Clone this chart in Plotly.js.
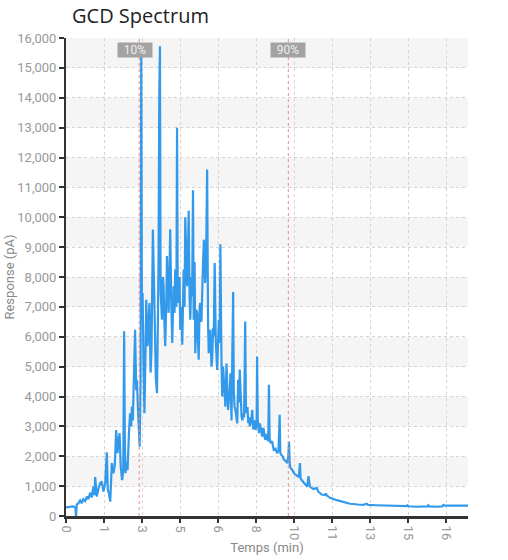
<!DOCTYPE html>
<html>
<head>
<meta charset="utf-8">
<script src="https://cdn.plot.ly/plotly-3.0.1.min.js"></script>
<style>html,body{margin:0;padding:0;background:#fff;}#chart{width:508px;height:560px;}</style>
</head>
<body>
<div id="chart"></div>
<script>
// Retention time (min) and detector response (pA)
const timeMin = [
 0.00,0.18,0.32,0.41,0.44,0.47,0.54,0.62,0.69,0.76,0.84,0.91,0.98,1.06,1.13,1.20,1.25,1.28,1.35,1.42,
 1.50,1.57,1.64,1.72,1.79,1.83,1.88,1.94,1.98,2.01,2.08,2.14,2.20,2.26,2.30,2.35,2.40,2.46,2.51,2.55,
 2.58,2.61,2.65,2.70,2.76,2.81,2.86,2.89,2.93,2.96,2.99,3.03,3.08,3.11,3.15,3.18,3.23,3.27,3.30,3.33,
 3.36,3.40,3.44,3.49,3.52,3.58,3.62,3.66,3.71,3.75,3.81,3.86,3.90,3.94,3.99,4.03,4.06,4.09,4.12,4.15,
 4.21,4.25,4.28,4.32,4.35,4.40,4.43,4.47,4.50,4.54,4.57,4.62,4.66,4.72,4.76,4.79,4.84,4.87,4.90,4.94,
 4.98,5.01,5.06,5.10,5.16,5.20,5.23,5.28,5.31,5.35,5.38,5.42,5.45,5.50,5.53,5.57,5.60,5.64,5.67,5.72,
 5.75,5.79,5.82,5.86,5.89,5.94,5.97,6.01,6.05,6.10,6.14,6.19,6.23,6.26,6.30,6.33,6.38,6.41,6.45,6.48,
 6.52,6.57,6.63,6.67,6.70,6.74,6.77,6.82,6.85,6.89,6.92,6.96,6.99,7.04,7.07,7.11,7.14,7.18,7.21,7.26,
 7.29,7.33,7.36,7.39,7.43,7.48,7.51,7.55,7.59,7.62,7.67,7.70,7.74,7.77,7.81,7.86,7.89,7.92,7.96,7.99,
 8.03,8.06,8.12,8.17,8.21,8.24,8.28,8.31,8.36,8.38,8.41,8.46,8.50,8.53,8.58,8.60,8.65,8.68,8.72,8.75,
 8.80,8.82,8.87,8.90,8.93,8.97,9.04,9.11,9.19,9.26,9.32,9.37,9.40,9.44,9.50,9.56,9.63,9.70,9.75,9.78,
 9.81,9.85,9.92,10.00,10.07,10.14,10.21,10.26,10.29,10.36,10.44,10.51,10.58,10.63,10.66,10.70,10.85,11.00,11.05,11.21,
 11.38,11.40,11.43,11.58,11.87,12.16,12.46,12.80,13.04,13.19,13.25,13.60,13.92,14.40,14.94,14.98,15.02,15.38,15.85,15.89,
 15.93,16.26,16.50,16.55,16.60,17.14,17.63
];
const responsePA = [
 290,300,320,280,0,380,420,520,430,560,500,650,560,780,620,980,700,1300,650,900,
 1100,1150,820,1100,2130,900,760,480,1200,1770,1430,1700,2880,2100,2500,2770,1650,1200,1500,6180,
 2500,1430,1800,1540,2770,3440,3000,3660,3200,3890,4800,6230,4200,4560,3700,3000,2320,4500,15600,6500,
 7460,5000,3440,5600,7240,5680,6500,7130,4800,5600,9590,7000,6230,4600,4110,6500,8700,14050,15720,7500,
 6570,8000,7690,6400,5680,7200,8700,7600,6800,8200,9600,7000,5790,7690,6800,8250,7000,13000,7600,7130,
 8000,6230,7000,5730,8250,7000,10000,8600,7690,8800,10220,7300,6570,8000,7350,10900,6570,8500,5450,6900,
 6800,5800,5230,7000,7130,6500,7690,8500,9250,7800,8250,11600,6450,5450,6000,6230,5000,5230,6300,6010,
 8470,5800,4890,5600,6570,5800,9100,5100,4000,5000,4670,4100,3660,5100,4450,3550,3890,4100,4780,3200,
 5170,7500,4200,3660,3550,3330,3100,4560,3800,4900,3800,3330,3200,3440,3300,6510,3600,3440,3650,3110,
 3300,3000,3200,3550,2900,3000,3200,2880,3100,5340,3200,2770,3100,3000,2700,2660,2950,2880,2600,2550,
 2750,2660,2500,4390,2600,2440,2500,2210,2250,2100,2200,3390,2100,2045,2000,1880,1850,1770,2000,2490,
 1750,1600,1550,1430,1380,1320,1300,1770,1250,1180,1100,1050,980,1330,1050,980,900,940,830,720,
 700,760,690,610,530,470,410,385,375,410,370,360,350,335,330,360,325,310,320,360,
 320,310,320,370,345,350,350
];
const xTickLabels = ['0','1','3','5','6','8','10','11','13','15','16'];
const yTickValues = [0,1000,2000,3000,4000,5000,6000,7000,8000,9000,10000,11000,12000,13000,14000,15000,16000];
const markerLabels = ['10%','90%'];
const markerTimes = [3.21, 9.75];

const xTickVals = xTickLabels.map((_, i) => i * 100 / 60);
const shapes = [];
for (let i = 0; i < yTickValues.length - 1; i++) {
  if (i % 2 === 1) {
    shapes.push({type:'rect', xref:'paper', yref:'y', x0:0, x1:1, y0:yTickValues[i], y1:yTickValues[i+1],
      fillcolor:'#f5f5f5', line:{width:0}, layer:'below'});
  }
}
markerTimes.forEach(t => shapes.push({type:'line', xref:'x', yref:'paper', x0:t, x1:t, y0:0, y1:1,
  line:{color:'#f08a8a', width:1, dash:'dot'}, layer:'above'}));
const annotations = markerLabels.map((lab, i) => ({
  text: lab, x: markerTimes[i], xref:'x', y:0.974, yref:'paper', xanchor:'center', yanchor:'middle',
  showarrow:false, bgcolor:'#a3a3a3', borderpad:1, xshift: i === 0 ? -4 : 0, width:32, height:12,
  font:{family:'Roboto, sans-serif', size:12, color:'#eeeeee'}
}));

const tickFont = {family:'Roboto, sans-serif', size:13, color:'#999999'};
Plotly.newPlot('chart', [{
  type:'scatter', mode:'lines', x: timeMin, y: responsePA,
  line:{color:'#3399ea', width:2.2}, hoverinfo:'skip'
}], {
  width:508, height:560,
  margin:{l:66, r:40, t:38, b:44},
  paper_bgcolor:'#ffffff', plot_bgcolor:'#ffffff',
  showlegend:false,
  title:{text:'GCD Spectrum', x:72/508, xref:'container', xanchor:'left', y:1-16/560, yref:'container', yanchor:'middle',
    font:{family:'Open Sans, sans-serif', size:20, color:'#222222'}},
  xaxis:{range:[0,17.63], tickmode:'array', tickvals:xTickVals, ticktext:xTickLabels, tickangle:90,
    tickfont:tickFont, showgrid:true, gridcolor:'#d4d4d4', griddash:'dot', gridwidth:1,
    showline:true, linecolor:'#333333', linewidth:3, ticks:'outside', ticklen:4, tickwidth:2, tickcolor:'#333333',
    zeroline:false, fixedrange:true,
    title:{text:'Temps (min)', font:{family:'Roboto, sans-serif', size:13, color:'#888888'}, standoff:0}},
  yaxis:{range:[0,16000], tickmode:'array', tickvals:yTickValues, tickformat:',d',
    tickfont:tickFont, showgrid:true, gridcolor:'#d4d4d4', griddash:'dot', gridwidth:1,
    showline:true, linecolor:'#333333', linewidth:2, ticks:'outside', ticklen:5, tickwidth:2, tickcolor:'#333333',
    zeroline:false, fixedrange:true,
    title:{text:'Response (pA)', font:{family:'Roboto, sans-serif', size:13, color:'#888888'}, standoff:0}},
  shapes: shapes,
  annotations: annotations
}, {staticPlot:true, displayModeBar:false});
</script>
</body>
</html>
